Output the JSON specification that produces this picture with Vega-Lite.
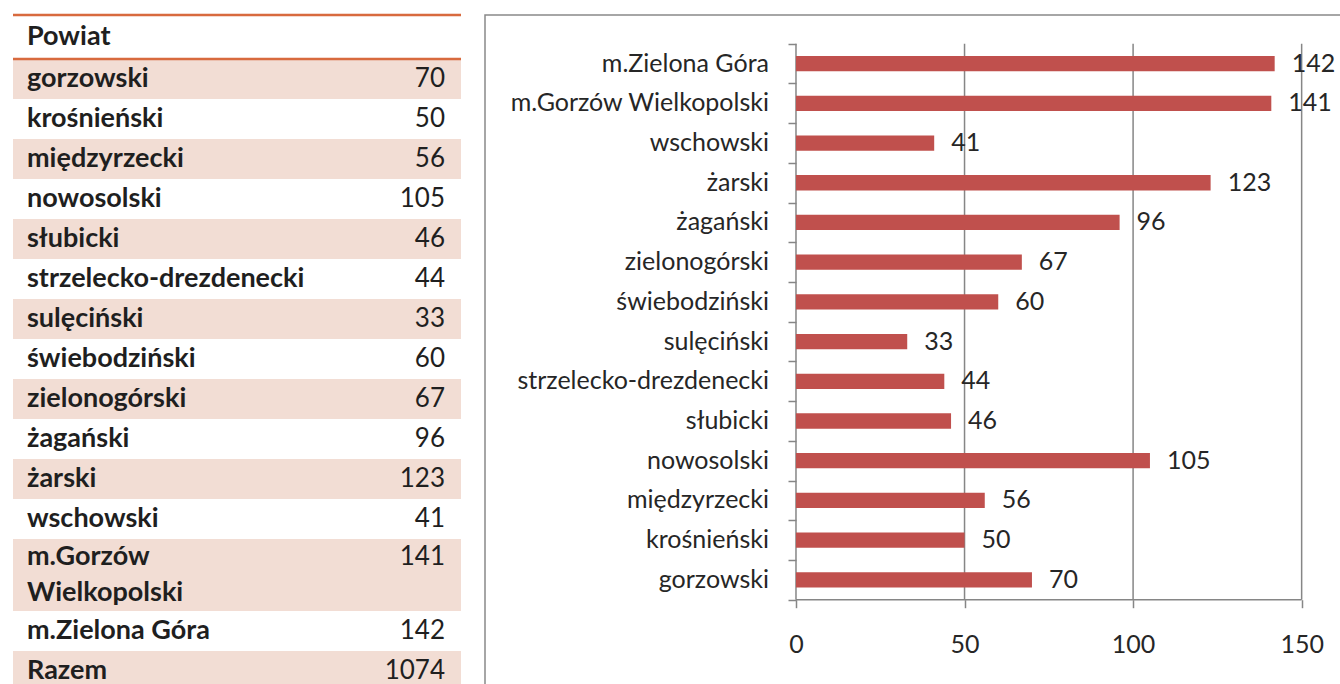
{
  "$schema": "https://vega.github.io/schema/vega-lite/v6.json",
  "autosize": {"type": "pad"},
  "padding": {"left": 11, "top": 13, "right": 0, "bottom": 0},
  "background": "white",
  "spacing": 24,
  "bounds": "flush",
  "config": {"view": {"stroke": null}},
  "datasets": {
    "tabela": [
      {"nr": 0, "powiat": "Powiat", "liczba": null},
      {"nr": 1, "powiat": "gorzowski", "liczba": 70},
      {"nr": 2, "powiat": "krośnieński", "liczba": 50},
      {"nr": 3, "powiat": "międzyrzecki", "liczba": 56},
      {"nr": 4, "powiat": "nowosolski", "liczba": 105},
      {"nr": 5, "powiat": "słubicki", "liczba": 46},
      {"nr": 6, "powiat": "strzelecko-drezdenecki", "liczba": 44},
      {"nr": 7, "powiat": "sulęciński", "liczba": 33},
      {"nr": 8, "powiat": "świebodziński", "liczba": 60},
      {"nr": 9, "powiat": "zielonogórski", "liczba": 67},
      {"nr": 10, "powiat": "żagański", "liczba": 96},
      {"nr": 11, "powiat": "żarski", "liczba": 123},
      {"nr": 12, "powiat": "wschowski", "liczba": 41},
      {"nr": 13, "powiat": "m.Gorzów Wielkopolski", "liczba": 141},
      {"nr": 14, "powiat": "m.Zielona Góra", "liczba": 142},
      {"nr": 15, "powiat": "Razem", "liczba": 1074}
    ]
  },
  "hconcat": [
    {
      "width": 448,
      "height": 676,
      "view": {"stroke": null},
      "data": {"name": "tabela"},
      "transform": [
        {"calculate": "datum.powiat == 'm.Gorzów Wielkopolski' ? 'm.Gorzów\\nWielkopolski' : datum.powiat", "as": "etykieta"},
        {"calculate": "datum.nr == 0 ? 1.1 : (indexof(datum.etykieta, '\\n') >= 0 ? 1.8 : 1)", "as": "linie"},
        {"window": [{"op": "sum", "field": "linie", "as": "do"}], "sort": [{"field": "nr", "order": "ascending"}], "frame": [null, 0]},
        {"calculate": "datum.do - datum.linie", "as": "od"},
        {"calculate": "datum.od + (datum.linie > 1.5 ? 0.45 : datum.linie / 2)", "as": "wiersz"}
      ],
      "layer": [
        {
          "transform": [{"filter": "datum.nr % 2 == 1"}],
          "mark": {"type": "rect", "color": "#F2DDD4", "strokeWidth": 0},
          "encoding": {
            "x": {"datum": 0, "type": "quantitative", "scale": {"domain": [0, 1], "nice": false, "zero": false, "padding": 0}, "axis": null},
            "x2": {"datum": 1},
            "y": {"field": "od", "type": "quantitative", "scale": {"domain": [0, 16.9], "reverse": true, "nice": false, "zero": false, "padding": 0}, "axis": null},
            "y2": {"field": "do"}
          }
        },
        {
          "transform": [{"filter": "datum.nr == 0"}],
          "mark": {"type": "rule", "color": "#D86A3E", "strokeWidth": 2.5},
          "encoding": {
            "x": {"datum": 0, "type": "quantitative", "axis": null},
            "x2": {"datum": 1},
            "y": {"field": "od", "type": "quantitative", "axis": null}
          }
        },
        {
          "transform": [{"filter": "datum.nr == 0"}],
          "mark": {"type": "rule", "color": "#D86A3E", "strokeWidth": 2.5},
          "encoding": {
            "x": {"datum": 0, "type": "quantitative", "axis": null},
            "x2": {"datum": 1},
            "y": {"field": "do", "type": "quantitative", "axis": null}
          }
        },
        {
          "mark": {"type": "text", "align": "left", "baseline": "middle", "dx": 14, "font": "Lato", "fontWeight": "bold", "fontSize": 27, "color": "#1f1f1f", "lineBreak": "\n", "lineHeight": 36},
          "encoding": {
            "x": {"datum": 0, "type": "quantitative", "axis": null},
            "y": {"field": "wiersz", "type": "quantitative", "axis": null},
            "text": {"field": "etykieta", "type": "nominal"}
          }
        },
        {
          "transform": [{"filter": "datum.nr >= 1"}],
          "mark": {"type": "text", "align": "right", "baseline": "middle", "dx": -16, "font": "Lato", "fontSize": 26, "color": "#1f1f1f"},
          "encoding": {
            "x": {"datum": 1, "type": "quantitative", "axis": null},
            "y": {"field": "wiersz", "type": "quantitative", "axis": null},
            "text": {"field": "liczba", "type": "nominal"}
          }
        }
      ]
    },
    {
      "width": 857,
      "height": 670,
      "view": {"stroke": "#898989", "strokeWidth": 1.5},
      "data": {"name": "tabela"},
      "layer": [
        {
          "data": {"values": [{"x": 0}, {"x": 50}, {"x": 100}, {"x": 150}]},
          "mark": {"type": "rule", "color": "#868686", "strokeWidth": 1.5},
          "encoding": {
            "x": {"field": "x", "type": "quantitative"},
            "y": {"datum": 0.5, "type": "quantitative"},
            "y2": {"datum": 14.5}
          }
        },
        {
          "data": {"values": [{}]},
          "mark": {"type": "rule", "color": "#868686", "strokeWidth": 1.5},
          "encoding": {
            "x": {"datum": 0, "type": "quantitative"},
            "x2": {"datum": 150},
            "y": {"datum": 0.5, "type": "quantitative"}
          }
        },
        {
          "transform": [{"filter": "datum.nr >= 1 && datum.nr <= 14"}],
          "mark": {"type": "bar", "orient": "horizontal", "height": 15.3, "color": "#C0504D"},
          "encoding": {
            "x": {
              "field": "liczba", "type": "quantitative",
              "scale": {"domain": [-92.25, 161.97], "nice": false, "zero": false, "padding": 0},
              "axis": {"values": [0, 50, 100, 150], "offset": -85.3, "domain": false, "grid": false, "ticks": true, "tickSize": 8, "tickColor": "#868686", "tickWidth": 1.5, "labels": true, "labelFont": "Lato", "labelFontSize": 25, "labelColor": "#262626", "labelPadding": 25, "labelFlush": false, "labelOverlap": false, "title": null}
            },
            "x2": {"datum": 0},
            "y": {
              "field": "nr", "type": "quantitative",
              "scale": {"domain": [-1.648, 15.224], "nice": false, "zero": false, "padding": 0},
              "axis": {"values": [0.5, 1.5, 2.5, 3.5, 4.5, 5.5, 6.5, 7.5, 8.5, 9.5, 10.5, 11.5, 12.5, 13.5, 14.5], "offset": -311, "domain": false, "grid": false, "ticks": true, "labels": false, "tickSize": 8, "tickColor": "#868686", "tickWidth": 1.5, "title": null}
            }
          }
        },
        {
          "transform": [{"filter": "datum.nr >= 1 && datum.nr <= 14"}],
          "mark": {"type": "text", "align": "left", "baseline": "middle", "dx": 17, "font": "Lato", "fontSize": 25, "color": "#262626"},
          "encoding": {
            "x": {"field": "liczba", "type": "quantitative"},
            "y": {"field": "nr", "type": "quantitative"},
            "text": {"field": "liczba", "type": "nominal"}
          }
        },
        {
          "transform": [{"filter": "datum.nr >= 1 && datum.nr <= 14"}],
          "mark": {"type": "text", "align": "right", "baseline": "middle", "dx": -27, "font": "Lato", "fontSize": 25, "color": "#262626"},
          "encoding": {
            "x": {"datum": 0, "type": "quantitative"},
            "y": {"field": "nr", "type": "quantitative"},
            "text": {"field": "powiat", "type": "nominal"}
          }
        }
      ]
    }
  ]
}
